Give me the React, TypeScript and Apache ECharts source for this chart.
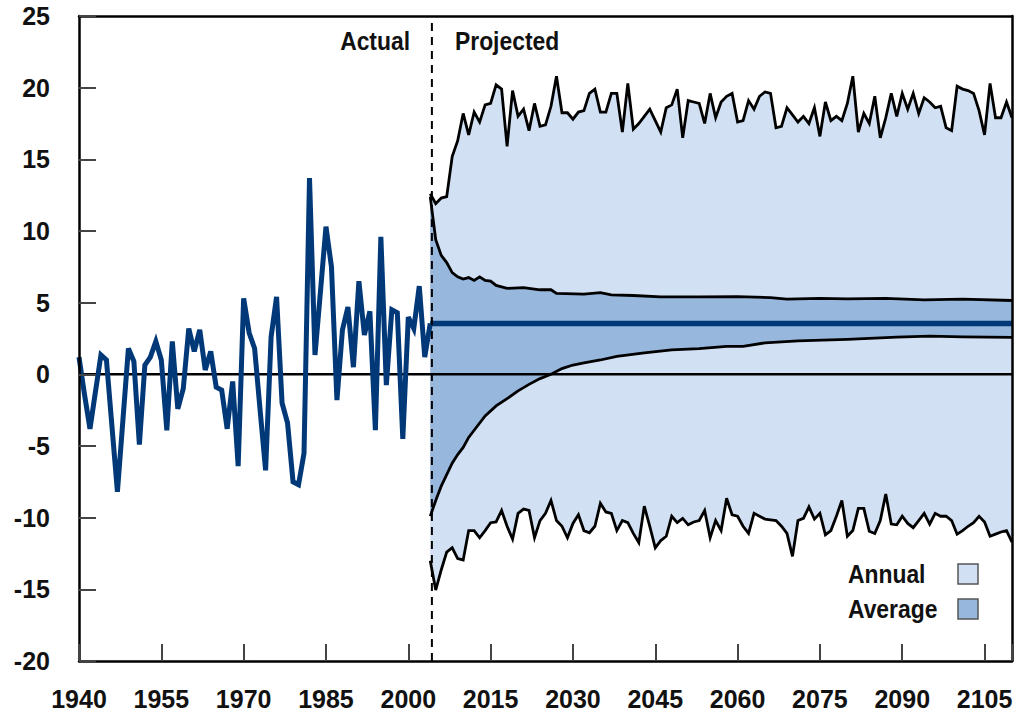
import React, { useEffect, useRef } from 'react';
import * as echarts from 'echarts';

// ---------- data ----------
const BASE_YEAR = 1940;
const X_MAX_YEAR = 2110;
const X_TICK_STEP = 15;
const Y_MIN = -20;
const Y_MAX = 25;
const Y_STEP = 5;
const DIVIDE_YEAR = 2004.3;

const actualStartYear = 1940;
const actualValues = [
  1.2, -1.4, -3.8, -1.2, 1.35, 1.0, -3.6, -8.2, -3.2, 1.8,
  0.9, -4.9, 0.65, 1.2, 2.3, 1.0, -3.9, 2.3, -2.4, -1.0,
  3.2, 1.6, 3.1, 0.3, 1.6, -0.9, -1.1, -3.8, -0.5, -6.4,
  5.3, 2.9, 1.8, -2.5, -6.7, 2.6, 5.4, -2.0, -3.4, -7.5,
  -7.7, -5.5, 13.7, 1.35, 5.8, 10.3, 7.5, -1.8, 3.1, 4.7,
  0.5, 6.5, 2.75, 4.4, -3.9, 9.6, -0.75, 4.5, 4.3, -4.5,
  4.0, 3.2, 6.15, 1.2, 3.55,
];

const projStartYear = 2004;
const annualUpper = [
  12.6, 11.9, 12.3, 12.4, 15.2, 16.3,
  18.2, 16.7, 18.3, 17.6, 18.8, 18.9, 20.2, 19.9, 15.9, 19.8,
  18.0, 18.5, 17.0, 18.9, 17.3, 17.4, 18.7, 20.8, 18.25, 18.25,
  17.8, 18.3, 18.4, 19.6, 19.9, 18.3, 18.3, 19.6, 19.6, 16.9,
  20.3, 17.1, 17.5, 18.0, 18.5, 17.7, 16.9, 18.6, 18.8, 19.9,
  16.5, 19.1, 19.0, 18.9, 17.5, 19.6, 17.9, 19.0, 19.4, 19.6,
  17.6, 17.7, 19.1, 18.5, 19.4, 19.7, 19.6, 17.2, 17.3, 18.6,
  18.1, 17.6, 18.0, 17.5, 18.6, 16.6, 19.0, 17.7, 18.0, 17.7,
  18.9, 20.8, 16.9, 18.2, 17.5, 19.4, 16.5, 17.9, 19.6, 18.0,
  19.6, 18.5, 19.6, 18.2, 19.3, 19.0, 18.6, 18.7, 17.2, 17.0,
  20.1, 19.9, 19.8, 19.6, 18.4, 16.7, 20.3, 17.9, 17.9, 19.0, 17.9,
];
const annualLower = [
  -13.0, -15.05, -13.65, -12.4, -12.1, -12.85,
  -12.95, -10.9, -10.9, -11.4, -10.9, -10.35, -10.3, -9.5, -10.6, -11.5,
  -9.7, -9.4, -9.5, -11.4, -10.2, -9.7, -8.8, -10.2, -10.6, -11.4,
  -10.4, -9.8, -10.9, -11.05, -10.6, -9.0, -9.6, -9.7, -10.9, -10.2,
  -10.35, -11.1, -11.75, -9.2, -10.6, -12.1, -11.6, -11.3, -9.9, -10.35,
  -10.05, -10.5, -10.3, -10.2, -9.5, -11.4, -10.2, -10.9, -8.65, -9.8,
  -9.9, -10.6, -11.1, -9.7, -9.9, -10.1, -10.15, -10.2, -10.6, -11.1,
  -12.7, -10.2, -10.05, -9.25, -10.1, -9.7, -11.2, -10.9, -9.9, -8.8,
  -11.3, -10.9, -9.35, -9.35, -10.95, -11.1, -10.2, -8.35, -10.45, -10.5,
  -9.9, -10.4, -10.7, -10.2, -9.7, -10.45, -9.7, -9.9, -9.9, -10.2,
  -11.15, -10.9, -10.6, -10.35, -9.9, -10.3, -11.3, -11.15, -11.0, -10.9, -11.7,
];

// [year, value] vertices of the average band's bounds
const averageUpper: [number, number][] = [
  [2004, 12.4], [2005, 9.4], [2006, 8.3], [2007, 7.8], [2008, 7.1], [2009, 6.8],
  [2010, 6.65], [2011, 6.75], [2012, 6.55], [2013, 6.8], [2014, 6.55], [2015, 6.5],
  [2016, 6.2], [2018, 6.0], [2021, 6.05], [2024, 5.9], [2026, 5.9], [2027, 5.65],
  [2032, 5.6], [2035, 5.7], [2037, 5.55], [2041, 5.5], [2046, 5.4], [2053, 5.4],
  [2060, 5.42], [2066, 5.35], [2069, 5.25], [2075, 5.3], [2080, 5.27], [2087, 5.3],
  [2094, 5.2], [2101, 5.25], [2110, 5.15],
];
const averageLower: [number, number][] = [
  [2004, -9.9], [2005, -8.8], [2006, -7.8], [2007, -7.0], [2008, -6.2], [2009, -5.6],
  [2010, -5.1], [2011, -4.4], [2012, -3.9], [2014, -2.9], [2016, -2.2], [2018, -1.7],
  [2020, -1.15], [2022, -0.7], [2024, -0.3], [2026, 0.0], [2028, 0.4], [2030, 0.65],
  [2032, 0.8], [2035, 1.0], [2038, 1.25], [2043, 1.5], [2048, 1.7], [2053, 1.8],
  [2058, 1.95], [2061, 1.95], [2065, 2.2], [2071, 2.34], [2080, 2.44], [2089, 2.6],
  [2095, 2.67], [2101, 2.62], [2110, 2.58],
];
const averageValue = 3.55;
const projEndYear = 2110;

const periodLabels = ['Actual', 'Projected'];
const legendLabels = ['Annual', 'Average'];

// ---------- styles ----------
const FONT = "'Liberation Sans', Arial, sans-serif";
const LIGHT = '#d1e1f3';
const MEDIUM = '#97b7dc';
const NAVY = '#003878';
const INK = '#111111';
const TEXT_SCALE_X = 0.88;

const seq = (start: number, vals: number[]) => vals.map((v, i) => [start + i - BASE_YEAR, v]);
const shift = (pairs: [number, number][]) => pairs.map(([y, v]) => [y - BASE_YEAR, v]);

function band(upper: number[][], lower: number[][], color: string, z: number) {
  return {
    type: 'custom',
    coordinateSystem: 'cartesian2d',
    xAxisIndex: 0,
    yAxisIndex: 0,
    silent: true,
    z,
    data: [[upper[0][0], upper[0][1]]],
    encode: { x: 0, y: 1 },
    renderItem: (_params: any, api: any) => {
      const pts = upper
        .map((p) => api.coord(p))
        .concat(lower.slice().reverse().map((p) => api.coord(p)));
      return { type: 'polygon', shape: { points: pts }, style: { fill: color, stroke: null } };
    },
  };
}

function line(data: number[][], color: string, width: number, z: number, extra: any = {}) {
  return {
    type: 'line',
    data,
    symbol: 'none',
    silent: true,
    z,
    lineStyle: { color, width, join: 'miter', miterLimit: 10, ...extra },
  };
}

function label(text: string, x: number, y: number, align: string) {
  return {
    type: 'text',
    x,
    y,
    z: 20,
    scaleX: TEXT_SCALE_X,
    style: { text, fill: INK, font: `bold 26px ${FONT}`, align, verticalAlign: 'middle' },
  };
}

export default function App() {
  const ref = useRef<HTMLDivElement>(null);

  useEffect(() => {
    if (!ref.current) return;
    const chart = echarts.init(ref.current, undefined, { renderer: 'svg' });

    const up = seq(projStartYear, annualUpper);
    const lo = seq(projStartYear, annualLower);
    const au = shift(averageUpper);
    const al = shift(averageLower);
    const xMax = X_MAX_YEAR - BASE_YEAR;
    const divide = DIVIDE_YEAR - BASE_YEAR;

    const axisFont = { fontFamily: FONT, fontSize: 25, fontWeight: 'bold' as const, color: INK };

    chart.setOption({
      animation: false,
      backgroundColor: '#ffffff',
      grid: { left: 79, right: 12, top: 16, bottom: 52, containLabel: false, outerBoundsMode: 'none' },
      xAxis: [
        {
          type: 'value',
          min: 0,
          max: xMax,
          interval: X_TICK_STEP,
          z: 10,
          axisLine: { show: true, onZero: false, lineStyle: { color: '#000', width: 2.5 } },
          axisTick: { show: true, inside: true, length: 17, lineStyle: { color: '#444', width: 2 } },
          axisLabel: {
            ...axisFont,
            margin: 25,
            formatter: (v: number) => (v % X_TICK_STEP === 0 ? String(v + BASE_YEAR) : ''),
          },
          splitLine: { show: false },
        },
        {
          type: 'value',
          position: 'top',
          min: 0,
          max: xMax,
          z: 10,
          axisLine: { show: true, onZero: false, lineStyle: { color: '#000', width: 2.5 } },
          axisTick: { show: false },
          axisLabel: { show: false },
          splitLine: { show: false },
        },
      ],
      yAxis: [
        {
          type: 'value',
          min: Y_MIN,
          max: Y_MAX,
          interval: Y_STEP,
          z: 10,
          axisLine: { show: true, onZero: false, lineStyle: { color: '#000', width: 2.5 } },
          axisTick: { show: true, inside: true, length: 17, lineStyle: { color: '#444', width: 2 } },
          axisLabel: { ...axisFont, margin: 29 },
          splitLine: { show: false },
        },
        {
          type: 'value',
          position: 'right',
          min: Y_MIN,
          max: Y_MAX,
          z: 10,
          axisLine: { show: true, onZero: false, lineStyle: { color: '#000', width: 2.5 } },
          axisTick: { show: false },
          axisLabel: { show: false },
          splitLine: { show: false },
        },
      ],
      series: [
        band(up, lo, LIGHT, 1),
        band(au, al, MEDIUM, 2),
        line([[0, 0], [xMax, 0]], '#000', 2.5, 3),
        line(up, '#000', 2.8, 4),
        line(lo, '#000', 2.8, 4),
        line(au, '#000', 2.8, 4),
        line(al, '#000', 2.8, 4),
        line([[projStartYear - BASE_YEAR, averageValue], [projEndYear - BASE_YEAR, averageValue]], NAVY, 5.5, 5, { cap: 'butt' }),
        line(seq(actualStartYear, actualValues), NAVY, 5, 5),
        line([[divide, Y_MIN], [divide, Y_MAX]], '#000', 2, 6, { type: [8, 6] }),
      ],
      graphic: [
        label(periodLabels[0], 410, 41, 'right'),
        label(periodLabels[1], 455, 41, 'left'),
        label(legendLabels[0], 848, 574, 'left'),
        label(legendLabels[1], 848, 609, 'left'),
        { type: 'rect', x: 958, y: 564, z: 20, shape: { width: 20, height: 20 }, style: { fill: LIGHT, stroke: '#555', lineWidth: 1.5 } },
        { type: 'rect', x: 958, y: 599, z: 20, shape: { width: 20, height: 20 }, style: { fill: MEDIUM, stroke: '#555', lineWidth: 1.5 } },
      ],
    });

    return () => chart.dispose();
  }, []);

  return (
    <div
      ref={ref}
      style={{ position: 'absolute', left: 0, top: 0, width: 1024, height: 713, background: '#fff' }}
    />
  );
}
